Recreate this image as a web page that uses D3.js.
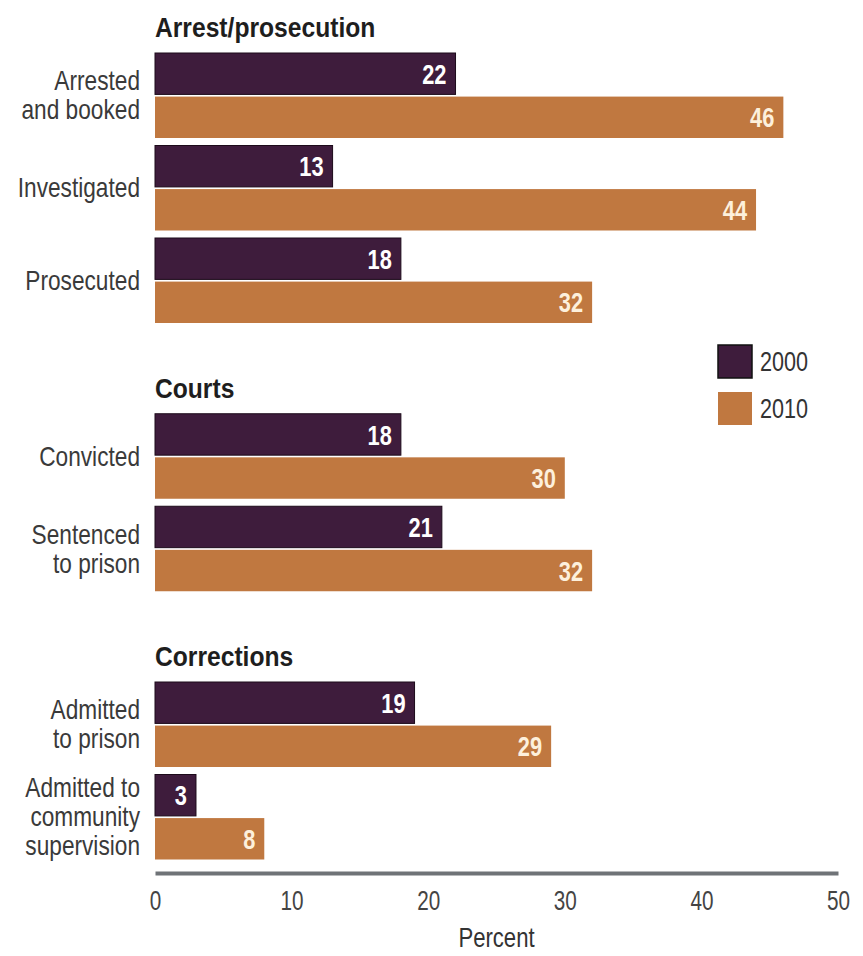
<!DOCTYPE html>
<html>
<head>
<meta charset="utf-8">
<script src="https://cdn.jsdelivr.net/npm/d3@7"></script>
<style>
  body { margin: 0; background: #fff; }
  svg text { font-family: "Liberation Sans", Arial, sans-serif; }
  .cat-label { fill: #3a3a3a; font-size: 27px; }
  .section-title { fill: #1e1e1e; font-size: 28px; font-weight: bold; }
  .value-label { font-size: 28px; font-weight: bold; }
  .x-axis text { fill: #444; font-size: 28px; }
  .x-axis .domain { stroke: #6f7377; stroke-width: 4; }
</style>
</head>
<body>
<div id="chart"></div>
<script>
// data
var sections = ["Arrest/prosecution", "Courts", "Corrections"];
var categories = ["Arrested\nand booked", "Investigated", "Prosecuted",
                  "Convicted", "Sentenced\nto prison",
                  "Admitted\nto prison", "Admitted to\ncommunity\nsupervision"];
var categorySection = [0, 0, 0, 1, 1, 2, 2];
var years = ["2000", "2010"];
var values2000 = [22, 13, 18, 18, 21, 19, 3];
var values2010 = [46, 44, 32, 30, 32, 29, 8];
var xTicks = [0, 10, 20, 30, 40, 50];
var colors = ["#3e1c3c", "#c07840"];

var width = 863, height = 956;

// the original uses a condensed face; squeeze a regular one horizontally
function squeeze(x, y, sx) {
    return "translate(" + x + "," + y + ") scale(" + sx + ",1)";
}

var svg = d3.select("#chart").append("svg")
    .attr("width", width)
    .attr("height", height);

// x scale: percent
var x = d3.scaleLinear()
    .domain([0, 50])
    .range([155, 838]);

// row slot -> pixel top; each section header takes ~0.9 of a row
var headerSlot = 0.9;
var slot = d3.scaleLinear()
    .domain([0, 1])
    .range([53, 145.5]);

var yInner = d3.scaleBand()
    .domain(years)
    .range([0, 85])
    .paddingInner(0.05);

var rows = categories.map(function(c, i) {
    return {
        label: c,
        section: categorySection[i],
        top: slot(i + categorySection[i] * headerSlot),
        values: [values2000[i], values2010[i]]
    };
});

// section titles
sections.forEach(function(s, si) {
    var first = rows.filter(function(r) { return r.section === si; })[0];
    svg.append("text")
        .attr("class", "section-title")
        .attr("transform", squeeze(x(0), first.top - 16, 0.88))
        .text(s);
});

var groups = svg.selectAll(".row")
    .data(rows)
    .enter().append("g")
    .attr("class", "row")
    .attr("transform", function(d) { return "translate(0," + d.top + ")"; });

// category labels (multi-line)
groups.append("text")
    .attr("class", "cat-label")
    .attr("text-anchor", "end")
    .attr("transform", squeeze(140, 0, 0.84))
    .each(function(d) {
        var lines = d.label.split("\n");
        var lh = 29;
        var mid = yInner.range()[1] / 2;
        var start = mid - (lines.length - 1) * lh / 2;
        var t = d3.select(this);
        lines.forEach(function(l, k) {
            t.append("tspan")
                .attr("x", 0)
                .attr("y", start + k * lh)
                .attr("dy", "0.35em")
                .text(l);
        });
    });

// bars
groups.selectAll(".bar")
    .data(function(d) {
        return years.map(function(yr, k) { return { year: yr, value: d.values[k], k: k }; });
    })
    .enter().append("rect")
    .attr("class", "bar")
    .attr("x", x(0))
    .attr("y", function(d) { return yInner(d.year); })
    .attr("width", function(d) { return x(d.value) - x(0); })
    .attr("height", yInner.bandwidth())
    .attr("fill", function(d) { return colors[d.k]; })
    .attr("stroke", function(d) { return d.k === 0 ? "#1c0a1a" : "none"; })
    .attr("stroke-width", 1);

// value labels inside bar ends
groups.selectAll(".value-label")
    .data(function(d) {
        return years.map(function(yr, k) { return { year: yr, value: d.values[k], k: k }; });
    })
    .enter().append("text")
    .attr("class", "value-label")
    .attr("text-anchor", "end")
    .attr("transform", function(d) {
        return squeeze(x(d.value) - 9, yInner(d.year) + yInner.bandwidth() / 2, 0.78);
    })
    .attr("dy", "0.36em")
    .attr("fill", function(d) { return d.k === 0 ? "#ffffff" : "#fdf0dc"; })
    .text(function(d) { return d.value; });

// x axis
var xAxis = d3.axisBottom(x)
    .tickValues(xTicks)
    .tickSize(0)
    .tickPadding(17)
    .tickFormat(d3.format("d"));

var gx = svg.append("g")
    .attr("class", "x-axis")
    .attr("transform", "translate(0,873)")
    .call(xAxis);

gx.selectAll(".tick text")
    .attr("transform", "scale(0.74,1)");

svg.append("text")
    .attr("transform", squeeze((x.range()[0] + x.range()[1]) / 2, 947, 0.82))
    .attr("text-anchor", "middle")
    .attr("fill", "#333")
    .style("font-size", "27px")
    .text("Percent");

// legend
var legend = svg.append("g")
    .attr("transform", "translate(718,345)");

var leg = legend.selectAll(".leg")
    .data(years)
    .enter().append("g")
    .attr("transform", function(d, i) { return "translate(0," + (i * 47) + ")"; });

leg.append("rect")
    .attr("width", 34)
    .attr("height", 33)
    .attr("fill", function(d, i) { return colors[i]; })
    .attr("stroke", function(d, i) { return i === 0 ? "#111" : "none"; })
    .attr("stroke-width", 1.5);

leg.append("text")
    .attr("transform", squeeze(42, 17, 0.8))
    .attr("dy", "0.35em")
    .attr("fill", "#333")
    .style("font-size", "27px")
    .text(function(d) { return d; });
</script>
</body>
</html>
